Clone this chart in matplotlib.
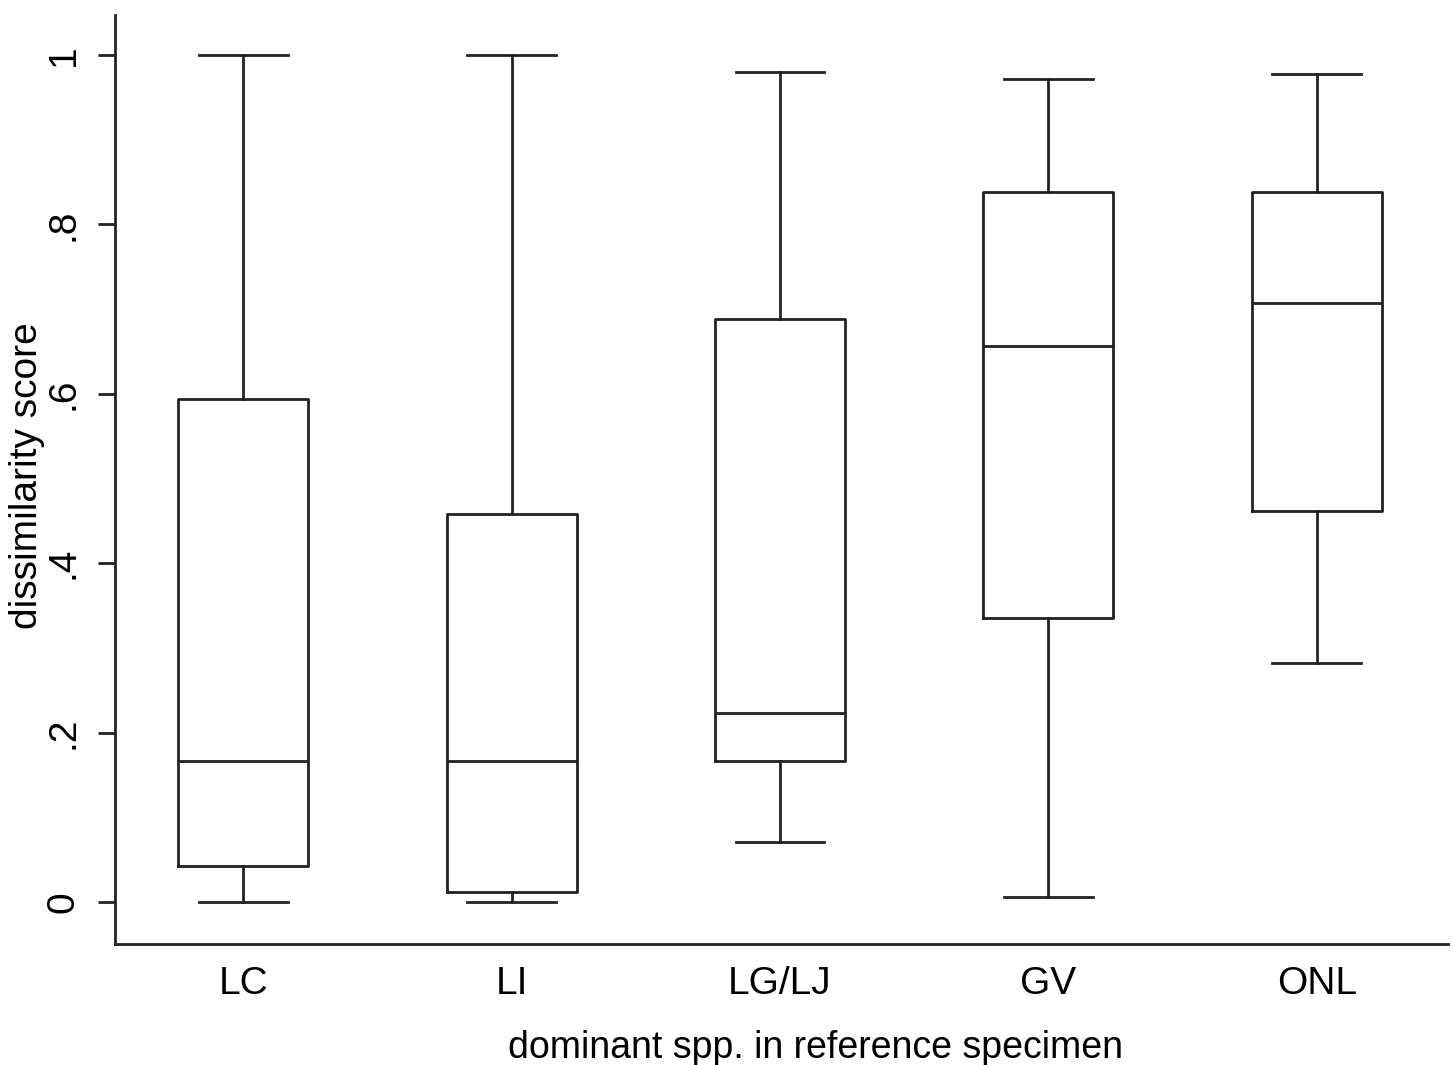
import numpy as np
import matplotlib.pyplot as plt

plt.rcParams['font.family'] = ['Liberation Sans', 'DejaVu Sans']

groups = ['LC', 'LI', 'LG/LJ', 'GV', 'ONL']
whislo = [0.0, 0.0, 0.071, 0.006, 0.282]
q1 = [0.043, 0.012, 0.166, 0.335, 0.462]
med = [0.166, 0.166, 0.223, 0.656, 0.707]
q3 = [0.594, 0.458, 0.688, 0.838, 0.838]
whishi = [1.0, 1.0, 0.980, 0.972, 0.978]

stats = []
for i in range(len(groups)):
    stats.append(dict(label=groups[i], whislo=whislo[i], q1=q1[i], med=med[i],
                      q3=q3[i], whishi=whishi[i], fliers=[]))

col = '#222222'
lw = 2.0

fig = plt.figure(figsize=(14.53, 10.65), dpi=100)
ax = fig.add_axes([115/1453, 1-944/1065, (1448-115)/1453, (944-15)/1065])

ax.bxp(stats, positions=np.arange(1, 6), widths=0.485, showfliers=False,
       boxprops=dict(color=col, linewidth=lw),
       medianprops=dict(color=col, linewidth=lw),
       whiskerprops=dict(color=col, linewidth=lw),
       capprops=dict(color=col, linewidth=lw),
       capwidths=0.33)

ax.set_xlim(0.522, 5.489)
ax.set_ylim(-0.0496, 1.0473)

ax.spines['top'].set_visible(False)
ax.spines['right'].set_visible(False)
ax.spines['left'].set_color(col)
ax.spines['bottom'].set_color(col)
ax.spines['left'].set_linewidth(lw)
ax.spines['bottom'].set_linewidth(lw)

ax.set_yticks([0, 0.2, 0.4, 0.6, 0.8, 1.0])
ax.set_yticklabels(['0', '.2', '.4', '.6', '.8', '1'], rotation=90, va='center')
ax.tick_params(axis='y', length=12, width=lw, color=col, pad=12, labelsize=28)
ax.tick_params(axis='x', length=0, pad=16, labelsize=28)

fig.text(816/1453, 1-1048/1065, 'dominant spp. in reference specimen',
         ha='center', va='center', fontsize=27)
fig.text(27/1453, 1-476/1065, 'dissimilarity score', rotation=90,
         ha='center', va='center', fontsize=28)

plt.savefig('out.png', dpi=100)
